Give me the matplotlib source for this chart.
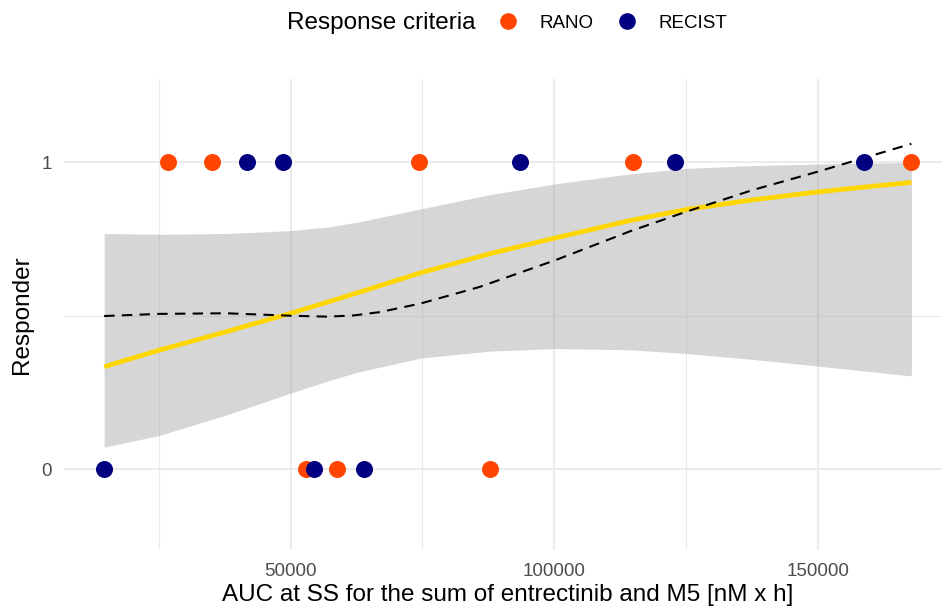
import numpy as np
import matplotlib.pyplot as plt
from matplotlib.lines import Line2D

plt.rcParams['font.family'] = ['Liberation Sans', 'DejaVu Sans']

# observed responders (1) and non-responders (0)
rano_x = [26800, 35100, 74400, 114900, 167800, 53000, 58800, 87800]
rano_y = [1, 1, 1, 1, 1, 0, 0, 0]
recist_x = [41800, 48500, 93600, 122900, 158900, 14600, 54500, 64000]
recist_y = [1, 1, 1, 1, 1, 0, 0, 0]

# logistic fit with confidence band
fit_x = [14600, 25100, 38000, 50000, 57500, 63100, 74700, 88000, 100400,
         114400, 125100, 137500, 150000, 160000, 167800]
fit_y = [0.334, 0.388, 0.449, 0.508, 0.547, 0.577, 0.640, 0.703, 0.754,
         0.810, 0.846, 0.877, 0.903, 0.921, 0.934]
fit_lo = [0.072, 0.110, 0.178, 0.248, 0.290, 0.318, 0.362, 0.385, 0.393,
          0.389, 0.377, 0.358, 0.336, 0.318, 0.304]
fit_hi = [0.768, 0.765, 0.768, 0.777, 0.790, 0.806, 0.848, 0.895, 0.930,
          0.962, 0.980, 0.989, 0.994, 0.997, 0.999]

# loess smooth
loess_x = [14600, 25100, 37800, 50000, 57000, 62000, 67000, 74700, 85900,
           100400, 114400, 125100, 137800, 150000, 160000, 167800]
loess_y = [0.499, 0.506, 0.508, 0.500, 0.497, 0.501, 0.512, 0.540, 0.594,
           0.682, 0.775, 0.839, 0.910, 0.969, 1.020, 1.060]

fig = plt.figure(figsize=(9.42, 6.08), dpi=100)
ax = fig.add_axes([64 / 942, 1 - 550 / 608, (952 - 64) / 942, (550 - 79) / 608])

ax.fill_between(fit_x, fit_lo, fit_hi, color='#999999', alpha=0.4, lw=0, zorder=2)
ax.plot(fit_x, fit_y, color='#FFD700', lw=3.4, zorder=3, solid_capstyle='butt')
ax.plot(loess_x, loess_y, color='black', lw=1.5, dashes=(5, 3.5), zorder=4)

ax.scatter(rano_x, rano_y, s=150, color='#FF4500', lw=0, zorder=5)
ax.scatter(recist_x, recist_y, s=150, color='#000080', lw=0, zorder=6)

ax.set_xlim(6981, 175508)
ax.set_ylim(-0.263, 1.271)
ax.set_xticks([50000, 100000, 150000])
ax.set_xticks([25000, 75000, 125000, 175000], minor=True)
ax.set_yticks([0, 1])
ax.set_yticks([0.5], minor=True)
ax.set_xticklabels(['50000', '100000', '150000'])
ax.set_yticklabels(['0', '1'])
ax.grid(which='major', color='#EBEBEB', lw=1.5, zorder=0)
ax.grid(which='minor', color='#EBEBEB', lw=0.8, zorder=0)
ax.set_axisbelow(True)
for s in ax.spines.values():
    s.set_visible(False)
ax.tick_params(which='both', length=0, labelsize=13.5, labelcolor='#4D4D4D')
ax.tick_params(axis='x', pad=9)
ax.tick_params(axis='y', pad=8.5)

ax.set_xlabel('AUC at SS for the sum of entrectinib and M5 [nM x h]', fontsize=17.5, labelpad=3)
ax.set_ylabel('Responder', fontsize=17.5, labelpad=6)

fig.text(287 / 942, 0.962, 'Response criteria', fontsize=17.5, va='center', ha='left')
handles = [Line2D([], [], ls='', marker='o', ms=12, color='#FF4500', mec='none'),
           Line2D([], [], ls='', marker='o', ms=12, color='#000080', mec='none')]
fig.legend(handles, ['RANO', 'RECIST'], ncol=2, loc='center left',
           bbox_to_anchor=(498.6 / 942, 0.962), frameon=False, fontsize=13.5,
           handlelength=1.0, handletextpad=1.2, columnspacing=1.26,
           borderaxespad=0, borderpad=0)

fig.savefig('out.png', dpi=100)
